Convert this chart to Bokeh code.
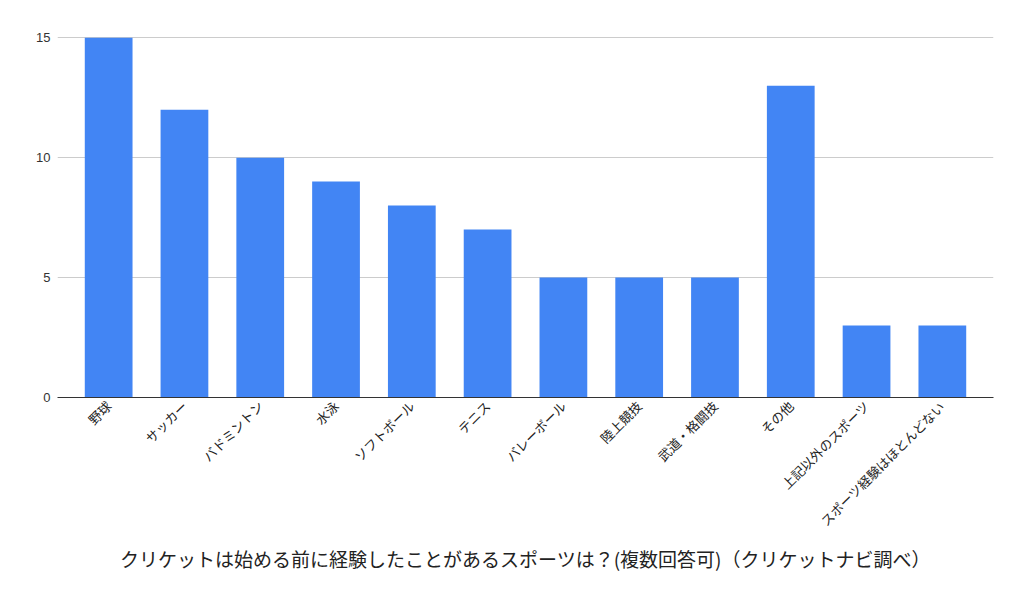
import math
from bokeh.plotting import figure
from bokeh.models import FactorRange, Range1d, Title, FixedTicker, ColumnDataSource
from bokeh.embed import file_html
from bokeh.resources import INLINE

categories = ["野球", "サッカー", "バドミントン", "水泳", "ソフトボール", "テニス",
              "バレーボール", "陸上競技", "武道・格闘技", "その他", "上記以外のスポーツ",
              "スポーツ経験はほとんどない"]
counts = [15, 12, 10, 9, 8, 7, 5, 5, 5, 13, 3, 3]
y_ticks = [0, 5, 10, 15]
title_text = "クリケットは始める前に経験したことがあるスポーツは？(複数回答可)（クリケットナビ調べ）"

source = ColumnDataSource(data=dict(cat=categories, n=counts))

p = figure(width=1024, height=600, output_backend="svg", toolbar_location=None,
           x_range=FactorRange(factors=categories, range_padding=0.175,
                               range_padding_units="absolute"),
           y_range=Range1d(0, 15.05),
           min_border_left=57, min_border_right=31, min_border_top=36,
           min_border_bottom=10)
p.outline_line_color = None
p.background_fill_color = "white"
p.border_fill_color = "white"

p.vbar(x="cat", top="n", width=0.63, source=source, color="#4285F4", line_color=None)

# y axis
p.yaxis.ticker = FixedTicker(ticks=y_ticks)
p.yaxis.axis_line_color = None
p.yaxis.major_tick_line_color = None
p.yaxis.minor_tick_line_color = None
p.yaxis.major_tick_out = 0
p.yaxis.major_tick_in = 0
p.yaxis.major_label_text_font = "Liberation Sans"
p.yaxis.major_label_text_font_size = "13px"
p.yaxis.major_label_text_color = "#333333"
p.yaxis.major_label_standoff = 7

# x axis
p.xaxis.axis_line_color = "#333333"
p.xaxis.axis_line_width = 1
p.xaxis.major_tick_line_color = None
p.xaxis.minor_tick_line_color = None
p.xaxis.major_tick_out = 0
p.xaxis.major_tick_in = 0
p.xaxis.major_label_orientation = math.pi / 4
p.xaxis.major_label_text_font = "Noto Sans CJK JP"
p.xaxis.major_label_text_font_size = "13px"
p.xaxis.major_label_text_color = "#222222"
p.xaxis.major_label_standoff = 6

p.xgrid.grid_line_color = None
p.ygrid.grid_line_color = "#cccccc"
p.ygrid.ticker = FixedTicker(ticks=y_ticks)

t = Title(text=title_text, align="center", text_font="Noto Sans CJK JP",
          text_font_size="19px", text_font_style="normal", text_color="#222222",
          standoff=7)
p.add_layout(t, "below")

spacer = Title(text=" ", text_font_size="19px", standoff=2)
p.add_layout(spacer, "below")

open("out.html", "w").write(file_html(p, INLINE))
